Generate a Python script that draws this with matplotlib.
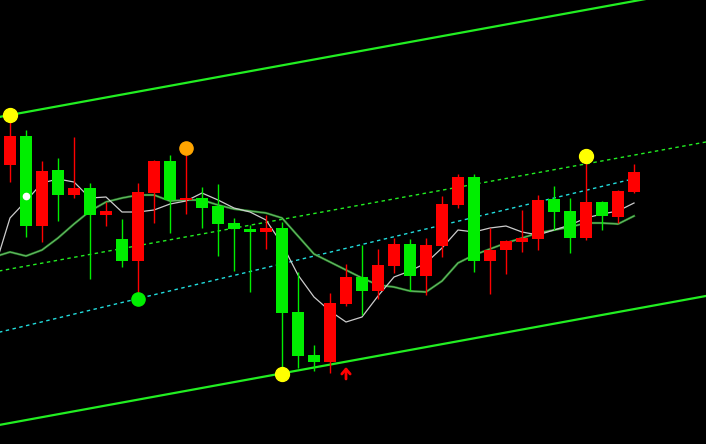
import matplotlib
matplotlib.use("agg")
from matplotlib import pyplot as plt
import numpy as np

# candles (price units)
opens = [308, 218, 273, 249, 256, 229, 233, 183, 252, 283, 244, 246, 236, 220, 215, 212, 216, 131, 88, 82,
         141, 167, 153, 179, 200, 168, 199, 240, 267, 183, 194, 203, 206, 244, 232, 206, 242, 228, 253, 272]
closes = [279, 308, 218, 274, 249, 256, 229, 205, 183, 251, 283, 244, 246, 238, 221, 215, 212, 216, 132, 89,
          82, 140, 167, 153, 178, 200, 168, 198, 239, 267, 183, 194, 202, 205, 245, 233, 206, 242, 227, 252]
highs = [329, 314, 283, 286, 307, 261, 242, 225, 261, 284, 289, 296, 257, 260, 226, 219, 229, 222, 172, 99,
         151, 180, 199, 195, 206, 205, 206, 248, 270, 270, 216, 204, 234, 249, 258, 246, 288, 243, 254, 280]
lows = [262, 207, 202, 223, 246, 165, 218, 177, 145, 221, 211, 230, 216, 188, 173, 152, 195, 70, 76, 73,
        71, 138, 129, 145, 171, 153, 149, 187, 236, 172, 150, 170, 192, 194, 214, 191, 204, 214, 221, 251]

# moving averages, first value belongs to the bar before the first visible one
fast_ma = [174, 226, 243, 261, 265, 262, 246, 247, 232, 232, 234, 240, 243, 251, 244, 236, 232, 224, 200, 169,
           147, 133, 122, 127, 148, 167, 173, 181, 196, 214, 212, 216, 218, 212, 209, 214, 219, 226, 230, 233, 241]
slow_ma = [187, 192, 188, 194, 206, 220, 233, 242, 246, 249, 249, 243, 244, 244, 239, 235, 233, 231, 226, 208,
           190, 182, 174, 166, 159, 157, 153, 152, 163, 181, 189, 195, 201, 206, 211, 214, 217, 221, 221, 220, 228]

# channel
chan_top0 = 329
chan_bot0 = 21
chan_slope = 2.92
reg0 = 114.4
reg_slope = 3.87

# signal dots
yellow_idx = [0, 17, 36]
yellow_px = [329, 70, 288]
orange_idx = [11]
orange_px = [296]
green_idx = [8]
green_px = [145]
white_idx = [1]
white_px = [248]
arrow_idx = [21]
arrow_px = [71]

UP = "#00ee00"
DOWN = "#ff0000"

fig = plt.figure(figsize=(7.06, 4.44), dpi=100, facecolor="black")
ax = fig.add_axes([0, 0, 1, 1], facecolor="black")
ax.set_xlim(-0.625, 43.5)
ax.set_ylim(0, 444)
ax.axis("off")

n = len(opens)
idx = np.arange(n)

# channel lines
xx = np.array([-2, 46])
ax.plot(xx, chan_top0 + chan_slope * xx, color="#22ee22", lw=1.6, zorder=1)
ax.plot(xx, chan_bot0 + chan_slope * xx, color="#22ee22", lw=1.6, zorder=1)
ax.plot(xx, (chan_top0 + chan_bot0) / 2 + chan_slope * xx, color="#22ee22", lw=1.0,
        dashes=(2.5, 2.5), zorder=1)
xr = np.array([-2, n - 1])
ax.plot(xr, reg0 + reg_slope * xr, color="#22dddd", lw=1.0, dashes=(2.5, 2.5), zorder=1)

# moving averages
mx = np.arange(-1, n)
ax.plot(mx, slow_ma, color="#2f8f2f", lw=1.6, zorder=2)
ax.plot(mx, slow_ma, color="#88c888", lw=0.4, zorder=2)
ax.plot(mx, fast_ma, color="#cccccc", lw=0.9, zorder=2)

# candles
o = np.array(opens)
c = np.array(closes)
cols = [UP if cc > oo else DOWN for oo, cc in zip(o, c)]
ax.vlines(idx, lows, highs, colors=cols, lw=1.0, zorder=3)
ax.bar(idx, np.maximum(np.abs(c - o), 1.5), bottom=np.minimum(o, c), width=0.69,
       color=cols, zorder=4)

# signals
ax.plot(yellow_idx, yellow_px, "o", color="#ffff00", ms=10, mec="#ffff00", zorder=5)
ax.plot(orange_idx, orange_px, "o", color="#ffa500", ms=9.5, mec="#ffa500", zorder=5)
ax.plot(green_idx, green_px, "o", color="#00ee00", ms=9.5, mec="#00ee00", zorder=5)
ax.plot(white_idx, white_px, "o", color="white", ms=4.5, mec="white", zorder=5)
for i, p in zip(arrow_idx, arrow_px):
    ax.annotate("", xy=(i, p + 6), xytext=(i, p - 6),
                arrowprops=dict(arrowstyle="->,head_width=0.3,head_length=0.35",
                                color=DOWN, lw=2.0, shrinkA=0, shrinkB=0), zorder=5)

fig.savefig("out.png", dpi=100, facecolor="black")
